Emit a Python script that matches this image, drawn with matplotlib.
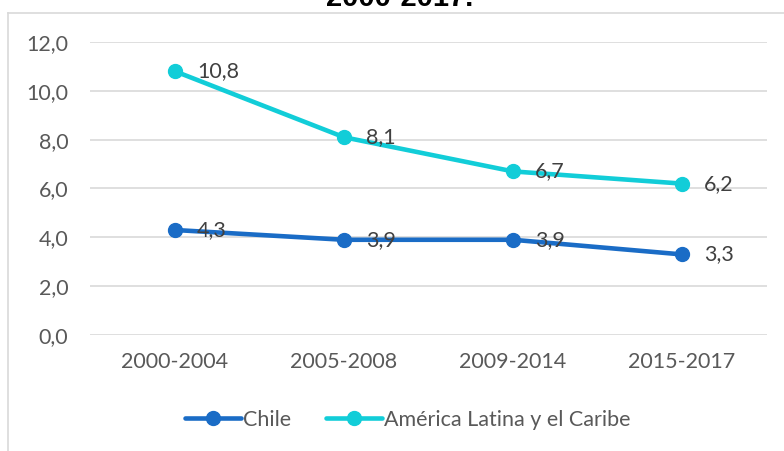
import matplotlib
matplotlib.use("Agg")
import matplotlib.pyplot as plt
from matplotlib.lines import Line2D
from matplotlib.ticker import FuncFormatter

periods = ["2000-2004", "2005-2008", "2009-2014", "2015-2017"]
chile = [4.3, 3.9, 3.9, 3.3]
alc = [10.8, 8.1, 6.7, 6.2]
series_names = ["Chile", "América Latina y el Caribe"]
colors = ["#1A6CC6", "#12CDD8"]

plt.rcParams["font.family"] = ["Lato", "DejaVu Sans"]
FS = 15.5

fig = plt.figure(figsize=(7.84, 4.51), dpi=100)
ax = fig.add_axes([0.1154, 0.2572, 0.8623, 0.6497])

x = list(range(len(periods)))
for vals, name, col in zip([chile, alc], series_names, colors):
    ax.plot(x, vals, color=col, lw=3.3, marker="o", ms=10, label=name,
            solid_capstyle="round", zorder=3)
    for xi, v in zip(x, vals):
        ax.annotate(f"{v:.1f}".replace(".", ","), (xi, v), xytext=(16, 0),
                    textcoords="offset points", va="center", ha="left",
                    fontsize=FS, color="#404040", zorder=4)

ax.set_xlim(-0.5, len(periods) - 0.5)
ax.set_ylim(0, 12)
ax.set_yticks([0, 2, 4, 6, 8, 10, 12])
ax.yaxis.set_major_formatter(FuncFormatter(lambda v, p: f"{v:.1f}".replace(".", ",")))
ax.set_xticks(x)
ax.set_xticklabels(periods)
ax.tick_params(axis="y", length=0, pad=16, labelsize=FS, colors="#595959")
ax.tick_params(axis="x", length=0, pad=12, labelsize=FS, colors="#595959")
ax.grid(axis="y", color="#D9D9D9", lw=1.2)
ax.set_axisbelow(True)
for s in ax.spines.values():
    s.set_visible(False)

ax.legend(loc="center", bbox_to_anchor=(0.52, (451 - 420) / 451), bbox_transform=fig.transFigure,
          ncol=2, frameon=False, fontsize=FS, handlelength=2.6, handletextpad=0.1,
          columnspacing=1.6, labelcolor="#595959")

# chart frame and cut-off title
fig.add_artist(Line2D([8 / 784, 1], [1 - 13 / 451] * 2, color="#D9D9D9", lw=1.2))
fig.add_artist(Line2D([8 / 784] * 2, [0, 1 - 13 / 451], color="#D9D9D9", lw=1.2))
fig.text(400 / 784, 1 - 6 / 451, "2000-2017.", ha="center", va="baseline",
         fontsize=21, fontweight="bold", family="Liberation Sans", color="black")

fig.savefig("out.png", dpi=100, facecolor="white")
